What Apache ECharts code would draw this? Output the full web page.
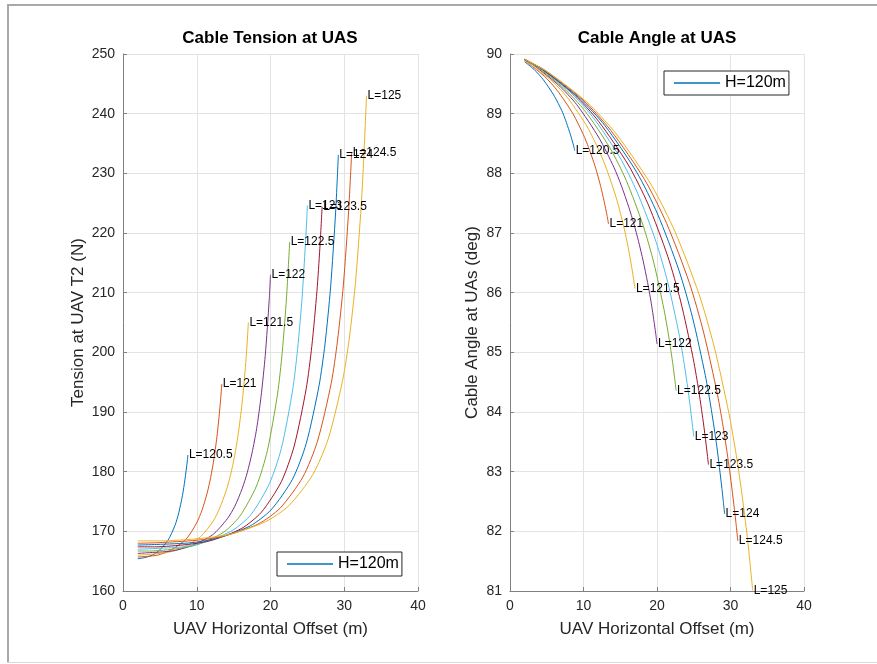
<!DOCTYPE html>
<html>
<head>
<meta charset="utf-8">
<script src="https://cdn.jsdelivr.net/npm/echarts@6/dist/echarts.min.js"></script>
<style>
html,body{margin:0;padding:0;background:#fff;}
#chart{width:877px;height:664px;}
</style>
</head>
<body>
<div id="chart"></div>
<script>
// Cable lengths (m), one curve per length
const cableLengths = [120.5, 121, 121.5, 122, 122.5, 123, 123.5, 124, 124.5, 125];

// UAV horizontal offset (m) for each curve
const offsetData = [
  [2.0, 3.28, 4.53, 6.05, 7.05, 7.56, 8.06, 8.39, 8.72, 8.80],
  [2.0, 4.65, 6.42, 8.56, 9.98, 10.70, 11.41, 11.88, 12.34, 12.79, 13.21, 13.40],
  [2.0, 5.70, 7.87, 10.50, 12.23, 13.11, 13.99, 14.57, 15.13, 15.68, 16.20, 16.69, 17.00],
  [2.0, 3.23, 6.59, 9.09, 12.13, 14.14, 15.16, 16.17, 16.84, 17.49, 18.12, 18.72, 19.29, 19.82, 20.00],
  [2.0, 3.61, 7.37, 10.17, 13.58, 15.82, 18.10, 19.57, 20.95, 21.59, 22.18, 22.60],
  [2.0, 3.96, 8.09, 11.16, 14.89, 17.35, 19.85, 21.47, 22.98, 23.67, 24.32, 24.92, 25.00],
  [2.0, 4.28, 8.74, 12.06, 16.10, 18.76, 21.46, 23.21, 24.84, 25.60, 26.30, 26.69, 27.00],
  [2.0, 4.58, 9.36, 12.91, 17.23, 20.07, 22.97, 24.84, 26.58, 27.39, 28.14, 28.83, 29.20],
  [2.0, 4.86, 9.93, 13.71, 18.29, 21.31, 24.39, 26.37, 28.23, 29.08, 29.88, 30.61, 31.00],
  [2.0, 5.13, 10.48, 14.46, 19.30, 22.49, 25.73, 27.83, 29.78, 30.69, 31.53, 32.30, 32.65, 33.02]
];

// Tension at UAV T2 (N)
const tensionData = [
  [165.4, 165.7, 166.4, 168.4, 171.0, 173.1, 176.0, 178.6, 181.8, 182.8],
  [165.7, 166.0, 166.8, 168.7, 171.4, 173.5, 176.4, 179.0, 182.2, 186.4, 191.7, 194.7],
  [166.0, 166.4, 167.1, 169.1, 171.7, 173.9, 176.8, 179.4, 182.6, 186.8, 192.1, 199.0, 205.0],
  [166.3, 166.4, 166.7, 167.5, 169.4, 172.1, 174.2, 177.2, 179.8, 183.1, 187.2, 192.6, 199.5, 208.7, 213.0],
  [166.7, 166.7, 167.1, 167.8, 169.8, 172.5, 177.6, 183.5, 193.0, 200.0, 209.3, 218.5],
  [167.0, 167.1, 167.4, 168.2, 170.2, 172.8, 178.0, 183.9, 193.5, 200.5, 209.8, 222.3, 224.6],
  [167.4, 167.4, 167.8, 168.5, 170.5, 173.2, 178.3, 184.3, 193.9, 201.0, 210.3, 217.4, 224.4],
  [167.7, 167.8, 168.1, 168.9, 170.9, 173.6, 178.7, 184.7, 194.4, 201.4, 210.8, 223.5, 233.1],
  [168.0, 168.1, 168.5, 169.2, 171.2, 173.9, 179.1, 185.1, 194.8, 201.9, 211.3, 224.0, 233.4],
  [168.4, 168.4, 168.8, 169.5, 171.6, 174.3, 179.5, 185.5, 195.3, 202.4, 211.8, 224.6, 232.7, 243.0]
];

// Cable angle at UAS (deg)
const angleData = [
  [89.87, 89.74, 89.57, 89.29, 89.05, 88.89, 88.71, 88.58, 88.43, 88.38],
  [89.89, 89.63, 89.39, 89.00, 88.65, 88.43, 88.18, 87.99, 87.78, 87.54, 87.29, 87.15],
  [89.89, 89.55, 89.26, 88.78, 88.35, 88.08, 87.77, 87.54, 87.28, 87.00, 86.68, 86.33, 86.07],
  [89.90, 89.81, 89.48, 89.15, 88.59, 88.10, 87.79, 87.43, 87.16, 86.86, 86.53, 86.17, 85.77, 85.32, 85.14],
  [89.90, 89.79, 89.42, 89.05, 88.43, 87.88, 87.13, 86.50, 85.72, 85.27, 84.78, 84.36],
  [89.90, 89.77, 89.37, 88.96, 88.28, 87.67, 86.86, 86.17, 85.32, 84.83, 84.28, 83.68, 83.59],
  [89.91, 89.75, 89.32, 88.87, 88.14, 87.49, 86.61, 85.86, 84.95, 84.42, 83.83, 83.45, 83.12],
  [89.91, 89.73, 89.27, 88.80, 88.02, 87.32, 86.38, 85.58, 84.61, 84.04, 83.42, 82.72, 82.29],
  [89.91, 89.72, 89.23, 88.72, 87.90, 87.16, 86.17, 85.32, 84.29, 83.69, 83.02, 82.29, 81.84],
  [89.91, 89.70, 89.19, 88.66, 87.79, 87.01, 85.97, 85.07, 83.98, 83.35, 82.65, 81.89, 81.47, 81.01]
];

const legendName = 'H=120m';
const xTicks = {min: 0, max: 40, interval: 10};
const tensionTicks = {min: 160, max: 250, interval: 10};
const angleTicks = {min: 81, max: 90, interval: 1};

const colors = ['#0072BD','#D95319','#EDB120','#7E2F8E','#77AC30','#4DBEEE','#A2142F','#0072BD','#D95319','#EDB120'];
const FONT = '"Liberation Sans", Arial, Helvetica, sans-serif';
const axisColor = '#808080';
const textColor = '#262626';
const gridColor = '#e3e3e3';

function makeX(idx) {
  return {
    type: 'value', gridIndex: idx, min: xTicks.min, max: xTicks.max, interval: xTicks.interval,
    name: 'UAV Horizontal Offset (m)', nameLocation: 'middle', nameGap: 30,
    nameTextStyle: {fontSize: 17, color: textColor, fontFamily: FONT},
    axisLine: {show: true, onZero: false, lineStyle: {color: axisColor, width: 1}},
    axisTick: {show: true, inside: true, length: 4, lineStyle: {color: axisColor}},
    axisLabel: {fontSize: 14, color: textColor, fontFamily: FONT, margin: 8},
    splitLine: {show: true, lineStyle: {color: gridColor, width: 1}}
  };
}
function makeY(idx, ticks, name, gap) {
  return {
    type: 'value', gridIndex: idx, min: ticks.min, max: ticks.max, interval: ticks.interval,
    name: name, nameLocation: 'middle', nameGap: gap, nameRotate: 90,
    nameTextStyle: {fontSize: 17, color: textColor, fontFamily: FONT},
    axisLine: {show: true, onZero: false, lineStyle: {color: axisColor, width: 1}},
    axisTick: {show: true, inside: true, length: 4, lineStyle: {color: axisColor}},
    axisLabel: {fontSize: 14, color: textColor, fontFamily: FONT, margin: 8},
    splitLine: {show: true, lineStyle: {color: gridColor, width: 1}}
  };
}

function buildSeries(idx, yData) {
  return cableLengths.map((L, i) => {
    const xs = offsetData[i];
    const ys = yData[i];
    return {
      type: 'line',
      name: i === 0 ? legendName : 'L=' + L,
      xAxisIndex: idx, yAxisIndex: idx,
      data: xs.map((x, j) => [x, ys[j]]),
      symbol: 'none', showSymbol: false,
      smooth: 0.25,
      lineStyle: {width: 1, color: colors[i]},
      itemStyle: {color: colors[i]},
      endLabel: {show: true, formatter: 'L=' + L, distance: 1, color: '#000', fontSize: 12, fontFamily: FONT},
      clip: false,
      animation: false
    };
  });
}

const chart = echarts.init(document.getElementById('chart'), null, {renderer: 'canvas'});
const legendCommon = {
  data: [{name: legendName, icon: 'rect'}], orient: 'horizontal',
  backgroundColor: '#fff', borderColor: textColor, borderWidth: 1, borderRadius: 0,
  padding: [4, 3, 4, 10], itemWidth: 46, itemHeight: 1.3,
  textStyle: {fontSize: 16, color: '#000', fontFamily: FONT},
  selectedMode: false
};
chart.setOption({
  animation: false,
  backgroundColor: '#fff',
  grid: [
    {left: 123, top: 54, width: 295, height: 537},
    {left: 510, top: 54, width: 294, height: 537}
  ],
  xAxis: [makeX(0), makeX(1)],
  yAxis: [
    makeY(0, tensionTicks, 'Tension at UAV T2 (N)', 36),
    makeY(1, angleTicks, 'Cable Angle at UAs (deg)', 29)
  ],
  legend: [
    Object.assign({}, legendCommon, {left: 277, top: 552}),
    Object.assign({}, legendCommon, {left: 664, top: 71})
  ],
  graphic: [
    {type: 'line', shape: {x1: 7, y1: 5, x2: 877, y2: 5}, style: {stroke: '#a9a9a9', lineWidth: 2}, silent: true},
    {type: 'line', shape: {x1: 8, y1: 4, x2: 8, y2: 662}, style: {stroke: '#a9a9a9', lineWidth: 2}, silent: true},
    {type: 'line', shape: {x1: 7, y1: 662.5, x2: 877, y2: 662.5}, style: {stroke: '#d9d9d9', lineWidth: 1}, silent: true},
    {type: 'text', x: 270, y: 38, style: {text: 'Cable Tension at UAS', align: 'center', verticalAlign: 'middle', fontSize: 17, fontWeight: 'bold', fontFamily: FONT, fill: '#000'}},
    {type: 'text', x: 657, y: 38, style: {text: 'Cable Angle at UAS', align: 'center', verticalAlign: 'middle', fontSize: 17, fontWeight: 'bold', fontFamily: FONT, fill: '#000'}}
  ],
  series: buildSeries(0, tensionData).concat(buildSeries(1, angleData))
});
</script>
</body>
</html>
